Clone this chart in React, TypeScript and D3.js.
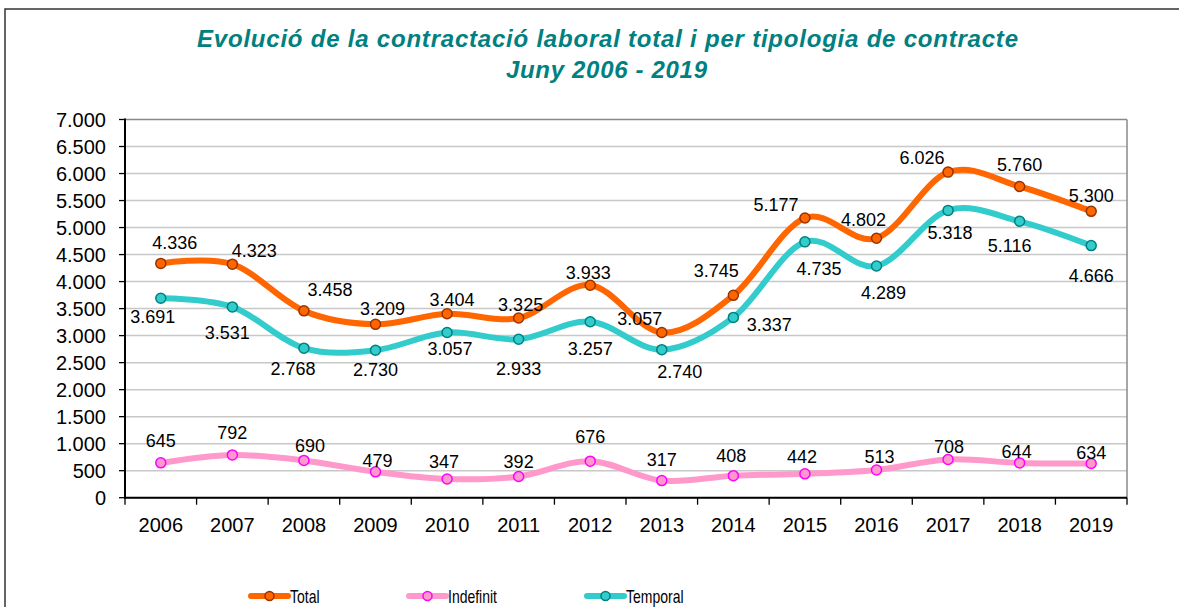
import React from "react";
import * as d3 from "d3";

const years = ["2006","2007","2008","2009","2010","2011","2012","2013","2014","2015","2016","2017","2018","2019"];
const totalValues = [4336,4323,3458,3209,3404,3325,3933,3057,3745,5177,4802,6026,5760,5300];
const indefinitValues = [645,792,690,479,347,392,676,317,408,442,513,708,644,634];
const temporalValues = [3691,3531,2768,2730,3057,2933,3257,2740,3337,4735,4289,5318,5116,4666];
const yTicks = [0,500,1000,1500,2000,2500,3000,3500,4000,4500,5000,5500,6000,6500,7000];

// label offsets (styling)
const totalLabelOffset: [number, number][] = [[14,-21],[22,-14],[26,-21],[7,-16],[5,-14],[2,-14],[-2,-13],[-22,-14],[-17,-25],[-29,-13],[-13,-19],[-26,-15],[0,-22],[0,-16]];
const temporalLabelOffset: [number, number][] = [[-8,18],[-5,26],[-11,20],[0,19],[3,16],[0,29],[0,27],[18,22],[36,7],[14,27],[7,27],[2,22],[-10,24],[0,30]];
const indefinitLabelOffset: [number, number][] = [[0,-22],[0,-22],[6,-15],[2,-11],[-3,-17],[0,-15],[0,-25],[0,-21],[-2,-20],[-3,-17],[3,-13],[1,-13],[-3,-11],[0,-11]];

const fmt = (v: number) => {
  const s = String(v);
  return s.length > 3 ? s.slice(0, s.length - 3) + "." + s.slice(-3) : s;
};

export default function App() {
  const W = 1179, H = 607;
  const left = 125, right = 1127, top = 119.5, bottom = 497.7;
  const x = d3.scaleBand().domain(years).range([left, right]);
  const y = d3.scaleLinear().domain([0, 7000]).range([bottom, top]);
  const cx = (i: number) => (x(years[i]) as number) + x.bandwidth() / 2;
  const line = d3.line<number>().x((_, i) => cx(i)).y(d => y(d)).curve(d3.curveCardinal.tension(0));

  const series = [
    { name: "Total", values: totalValues, line: "#ff6600", fill: "#ff6600", stroke: "#993300", offs: totalLabelOffset },
    { name: "Indefinit", values: indefinitValues, line: "#ff99cc", fill: "#ff99cc", stroke: "#ff00ff", offs: indefinitLabelOffset },
    { name: "Temporal", values: temporalValues, line: "#33cccc", fill: "#33cccc", stroke: "#008080", offs: temporalLabelOffset },
  ];
  const drawOrder = [series[1], series[2], series[0]];
  const legendX = [251, 409, 587];

  return (
    <svg width={W} height={H} style={{ position: "absolute", left: 0, top: 0 }} fontFamily="Arial, 'Liberation Sans', sans-serif">
      <rect x={0} y={0} width={W} height={H} fill="#fff" />
      <rect x={5} y={9} width={1300} height={800} fill="none" stroke="#333" strokeWidth={1.5} />
      <text x={197} y={47} fill="#008080" fontSize={24} fontWeight="bold" fontStyle="italic" textLength={821} lengthAdjust="spacing">Evolució de la contractació  laboral total i per tipologia de contracte</text>
      <text x={506} y={78} fill="#008080" fontSize={24} fontWeight="bold" fontStyle="italic" textLength={201} lengthAdjust="spacing">Juny 2006 - 2019</text>
      {/* grid */}
      {yTicks.map(t => (
        <line key={t} x1={left} x2={right} y1={y(t)} y2={y(t)} stroke={t === 7000 ? "#888" : "#c8c8c8"} strokeWidth={1.5} />
      ))}
      <line x1={right} x2={right} y1={top} y2={bottom} stroke="#888" strokeWidth={1.5} />
      {/* y ticks */}
      {yTicks.map(t => (
        <g key={"yt" + t}>
          <line x1={119} x2={left} y1={y(t)} y2={y(t)} stroke="#000" strokeWidth={1.3} />
          <text x={106} y={y(t) + 7} textAnchor="end" fontSize={20} fill="#000">{fmt(t)}</text>
        </g>
      ))}
      {/* x ticks */}
      {years.map((yr, i) => (
        <g key={"xt" + yr}>
          <line x1={(x(yr) as number)} x2={(x(yr) as number)} y1={bottom} y2={bottom + 7} stroke="#000" strokeWidth={1.3} />
          <text x={cx(i)} y={532} textAnchor="middle" fontSize={20} fill="#000">{yr}</text>
        </g>
      ))}
      <line x1={right} x2={right} y1={bottom} y2={bottom + 7} stroke="#000" strokeWidth={1.3} />
      <line x1={left} x2={left} y1={top - 1} y2={bottom + 1} stroke="#000" strokeWidth={2} />
      <line x1={left} x2={right} y1={bottom} y2={bottom} stroke="#000" strokeWidth={2} />
      {/* series */}
      {drawOrder.map(s => (
        <g key={s.name}>
          <path d={line(s.values) || ""} fill="none" stroke={s.line} strokeWidth={6} strokeLinecap="round" />
          {s.values.map((v, i) => (
            <circle key={i} cx={cx(i)} cy={y(v)} r={5} fill={s.fill} stroke={s.stroke} strokeWidth={1.5} />
          ))}
        </g>
      ))}
      {drawOrder.map(s => (
        <g key={"lab" + s.name}>
          {s.values.map((v, i) => (
            <text key={i} x={cx(i) + s.offs[i][0]} y={y(v) + s.offs[i][1] + 6.5} textAnchor="middle" fontSize={18} fill="#000">{fmt(v)}</text>
          ))}
        </g>
      ))}
      {/* legend */}
      {series.map((s, k) => (
        <g key={"leg" + s.name}>
          <line x1={legendX[k]} x2={legendX[k] + 37} y1={596} y2={596} stroke={s.line} strokeWidth={6} strokeLinecap="round" />
          <circle cx={legendX[k] + 18.5} cy={596} r={4.5} fill={s.fill} stroke={s.stroke} strokeWidth={1.5} />
          <text transform={`translate(${legendX[k] + 39},602.5) scale(0.8,1)`} fontSize={17.5} fill="#000">{s.name}</text>
        </g>
      ))}
    </svg>
  );
}
